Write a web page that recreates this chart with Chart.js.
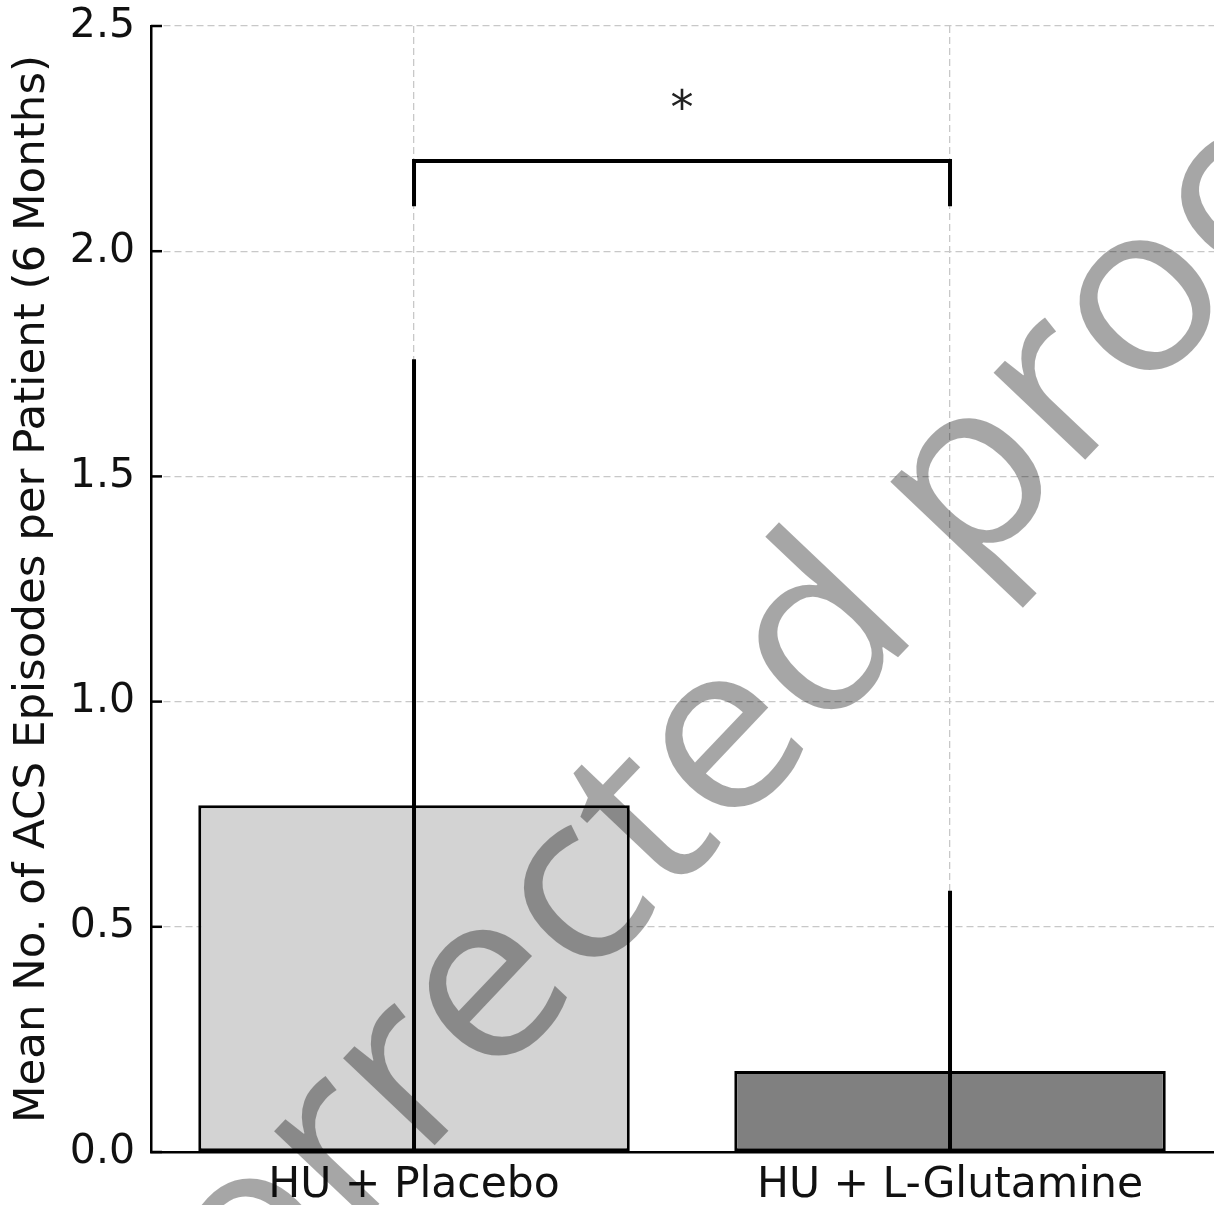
<!DOCTYPE html>
<html>
<head>
<meta charset="utf-8">
<script src="https://cdn.jsdelivr.net/npm/chart.js@4.4.1/dist/chart.umd.min.js"></script>
<style>
  html, body { margin: 0; padding: 0; background: #fff; overflow: hidden; }
  canvas { display: block; }
</style>
</head>
<body>
<canvas id="acs-chart" width="1214" height="1205"></canvas>
<script>
// data
const groups = ['HU + Placebo', 'HU + L-Glutamine'];
const means = [0.77, 0.18];
const errors = [0.99, 0.40];
const barColors = ['#d3d3d3', '#808080'];
const yTicks = [0, 0.5, 1.0, 1.5, 2.0, 2.5];
const bracketTop = 2.2;
const bracketLegEnd = 2.1;
const starLevel = 2.26;
const starText = '*';

Chart.defaults.font.family = '"DejaVu Sans", sans-serif';
Chart.defaults.color = '#111';

// error bars, significance bracket, inward ticks, watermark
const extras = {
  id: 'extras',
  afterDraw(chart) {
    const ctx = chart.ctx;
    const xs = chart.scales.x, ys = chart.scales.y;
    const area = chart.chartArea;

    ctx.save();
    ctx.strokeStyle = '#000';
    ctx.lineCap = 'butt';

    // error bars (no caps, clipped at axis minimum)
    ctx.lineWidth = 4;
    means.forEach((m, i) => {
      const x = xs.getPixelForValue(i);
      const lo = Math.max(ys.min, m - errors[i]);
      ctx.beginPath();
      ctx.moveTo(x, ys.getPixelForValue(lo));
      ctx.lineTo(x, ys.getPixelForValue(m + errors[i]));
      ctx.stroke();
    });

    // bracket
    const x0 = xs.getPixelForValue(0), x1 = xs.getPixelForValue(1);
    ctx.lineWidth = 4;
    ctx.lineJoin = 'miter';
    ctx.beginPath();
    ctx.moveTo(x0, ys.getPixelForValue(bracketLegEnd));
    ctx.lineTo(x0, ys.getPixelForValue(bracketTop));
    ctx.lineTo(x1, ys.getPixelForValue(bracketTop));
    ctx.lineTo(x1, ys.getPixelForValue(bracketLegEnd));
    ctx.stroke();

    ctx.fillStyle = '#222';
    ctx.font = '46px "DejaVu Sans"';
    ctx.textAlign = 'center';
    ctx.textBaseline = 'bottom';
    ctx.fillText(starText, (x0 + x1) / 2, ys.getPixelForValue(starLevel));

    // inward tick marks
    ctx.lineWidth = 2.5;
    yTicks.forEach(v => {
      const y = ys.getPixelForValue(v);
      ctx.beginPath();
      ctx.moveTo(area.left, y);
      ctx.lineTo(area.left + 11, y);
      ctx.stroke();
    });
    groups.forEach((g, i) => {
      const x = xs.getPixelForValue(i);
      ctx.beginPath();
      ctx.moveTo(x, area.bottom);
      ctx.lineTo(x, area.bottom - 11);
      ctx.stroke();
    });
    ctx.restore();

    // watermark
    ctx.save();
    ctx.font = '400 236px "Open Sans"';
    ctx.fillStyle = 'rgba(0,0,0,0.35)';
    ctx.textBaseline = 'alphabetic';
    ctx.textAlign = 'left';
    ctx.translate(967.5, 584);
    ctx.rotate(-46.5 * Math.PI / 180);
    ctx.scale(1.04, 1);
    const lead = ctx.measureText('Corrected ').width;
    ctx.fillText('Corrected proof', -lead, 0);
    ctx.restore();
  }
};

new Chart(document.getElementById('acs-chart'), {
  type: 'bar',
  data: {
    datasets: [{
      data: means.map((m, i) => ({ x: i, y: m })),
      backgroundColor: barColors,
      borderColor: '#000',
      borderWidth: 3,
      borderSkipped: false,
      categoryPercentage: 1.0,
      barPercentage: 0.805
    }]
  },
  options: {
    responsive: false,
    animation: false,
    events: [],
    layout: { padding: { top: 26, right: 0, bottom: 0, left: 0 } },
    plugins: { legend: { display: false }, tooltip: { enabled: false } },
    scales: {
      x: {
        type: 'linear',
        min: -0.4907,
        max: 1.4925,
        offset: false,
        bounds: 'data',
        z: 1,
        afterBuildTicks(scale) { scale.ticks = groups.map((g, i) => ({ value: i })); },
        afterFit(scale) {
          scale.height = 53;
          scale.paddingLeft = 0; scale.paddingRight = 0;
        },
        ticks: {
          callback: (v, i) => groups[i],
          font: { size: 42.5 },
          color: '#111',
          padding: 8,
          maxRotation: 0,
          autoSkip: false
        },
        grid: { color: '#c8c8c8', lineWidth: 1.3, drawTicks: false, offset: false },
        border: { display: true, color: '#000', width: 2.5, dash: [7, 4] }
      },
      y: {
        min: 0,
        max: 2.5,
        z: 1,
        afterBuildTicks(scale) { scale.ticks = yTicks.map(v => ({ value: v })); },
        afterFit(scale) {
          scale.width = 151;
          scale.paddingTop = 0; scale.paddingBottom = 0;
        },
        ticks: {
          callback: v => v.toFixed(1),
          font: { size: 41 },
          color: '#111',
          padding: 16
        },
        title: {
          display: true,
          text: 'Mean No. of ACS Episodes per Patient (6 Months)',
          font: { size: 43.5 },
          color: '#111',
          padding: { top: 7, bottom: 0 }
        },
        grid: {
          color: ctx => ctx.tick && ctx.tick.value === 0 ? 'rgba(0,0,0,0)' : '#c8c8c8',
          lineWidth: 1.3,
          drawTicks: false
        },
        border: { display: true, color: '#000', width: 2.5, dash: [7, 4] }
      }
    }
  },
  plugins: [extras]
});
</script>
</body>
</html>
